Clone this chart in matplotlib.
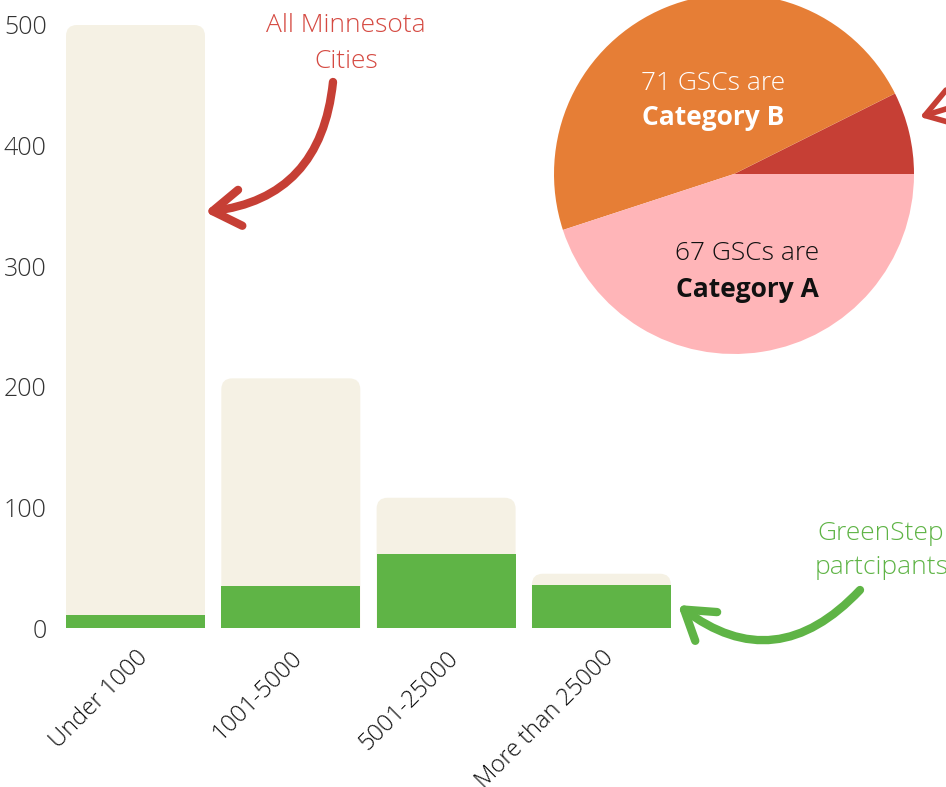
import matplotlib
matplotlib.use("Agg")
import matplotlib.pyplot as plt
from matplotlib.patches import FancyBboxPatch, FancyArrowPatch

# ---- data ----
categories = ["Under 1000", "1001-5000", "5001-25000", "More than 25000"]
all_cities = [500, 207, 108, 45]
greenstep = [11, 35, 61, 36]
y_ticks = [0, 100, 200, 300, 400, 500]

pie_labels = ["Category C", "Category B", "Category A"]
pie_values = [11, 71, 67]
pie_colors = ["#C63F35", "#E67E36", "#FFB5B8"]

BEIGE = "#F5F1E4"
GREEN = "#5FB446"
RED_TXT = "#D54A42"
RED_ARROW = "#C63F35"
GREEN_TXT = "#5FB446"

plt.rcParams['font.family'] = ['Open Sans', 'DejaVu Sans']

W, H = 946, 787
fig = plt.figure(figsize=(W / 100, H / 100), dpi=100)

# ---- bar axes ----
ax_left, ax_right = 55, 690
ax_bottom, ax_top = 628, 25
ax = fig.add_axes([ax_left / W, (H - ax_bottom) / H, (ax_right - ax_left) / W, (ax_bottom - ax_top) / H])
x = list(range(len(categories)))
width = 0.895
bg = ax.bar(x, all_cities, width=width, color=BEIGE, zorder=1)
px_per_x = 155.3
px_per_y = (ax_bottom - ax_top) / 500
aspect = (1 / px_per_y) / (1 / px_per_x)
r = 11 / px_per_x
for rect in bg:
    rect.set_visible(False)
    bx, bw, bh = rect.get_x(), rect.get_width(), rect.get_height()
    extra = 20
    p = FancyBboxPatch((bx, -extra), bw, bh + extra,
                       boxstyle=f"round,pad=0,rounding_size={r}",
                       mutation_aspect=aspect, facecolor=BEIGE, edgecolor="none", zorder=1)
    ax.add_patch(p)
ax.bar(x, greenstep, width=width, color=GREEN, zorder=2)

ax.set_xlim((ax_left - 135.5) / px_per_x, (ax_right - 135.5) / px_per_x)
ax.set_ylim(0, 500)
ax.set_yticks(y_ticks)
ax.set_yticklabels([str(t) for t in y_ticks], fontsize=18, color="#333333", fontweight="light")
ax.set_xticks(x)
ax.set_xticklabels(categories, rotation=45, ha="right", va="top", rotation_mode="anchor",
                   fontsize=17, color="#111111", fontweight="light")
ax.tick_params(axis="both", length=0)
ax.tick_params(axis="y", pad=6)
ax.tick_params(axis="x", pad=13)
for s in ax.spines.values():
    s.set_visible(False)
ax.set_facecolor("none")

# ---- pie axes ----
cx, cy, rad = 734, 174, 180
pax = fig.add_axes([(cx - rad) / W, (H - cy - rad) / H, 2 * rad / W, 2 * rad / H])
pax.pie(pie_values, colors=pie_colors, startangle=0, counterclock=True,
        wedgeprops=dict(linewidth=0))
pax.set_xlim(-1, 1)
pax.set_ylim(-1, 1)
pax.set_aspect("equal")
pax.axis("off")
pax.text(-0.117, 0.505, f"{pie_values[1]} GSCs are", ha="center", va="center",
         fontsize=19, color="white", fontweight="light")
pax.text(-0.117, 0.316, pie_labels[1], ha="center", va="center",
         fontsize=19, color="white", fontweight="bold")
pax.text(0.072, -0.439, f"{pie_values[2]} GSCs are", ha="center", va="center",
         fontsize=19, color="#111111", fontweight="light")
pax.text(0.072, -0.639, pie_labels[2], ha="center", va="center",
         fontsize=19, color="#111111", fontweight="bold")

# ---- annotations ----
def fpx(px, py):
    return (px / W, (H - py) / H)

fig.text(*fpx(346, 25), "All Minnesota", ha="center", va="center", fontsize=19,
         color=RED_TXT, fontweight="light")
fig.text(*fpx(346, 61), "Cities", ha="center", va="center", fontsize=19,
         color=RED_TXT, fontweight="light")
fig.text(*fpx(944, 533), "GreenStep", ha="right", va="center", fontsize=19,
         color=GREEN_TXT, fontweight="light")
fig.text(*fpx(949, 568), "partcipants", ha="right", va="center", fontsize=19,
         color=GREEN_TXT, fontweight="light")

def arrow(p1, p2, color, rad_, lw=6):
    a = FancyArrowPatch(fpx(*p1), fpx(*p2), transform=fig.transFigure,
                        connectionstyle=f"arc3,rad={rad_}",
                        arrowstyle="->,head_length=20,head_width=13",
                        color=color, linewidth=lw, capstyle="round", joinstyle="round",
                        mutation_scale=1, shrinkA=0, shrinkB=0)
    fig.add_artist(a)

arrow((333, 82), (205, 212), RED_ARROW, -0.4)
arrow((860, 590), (678, 605), GREEN, -0.45)
arrow((975, 100), (920, 117), RED_ARROW, 0.0, lw=4)

fig.savefig("out.png", dpi=100)
